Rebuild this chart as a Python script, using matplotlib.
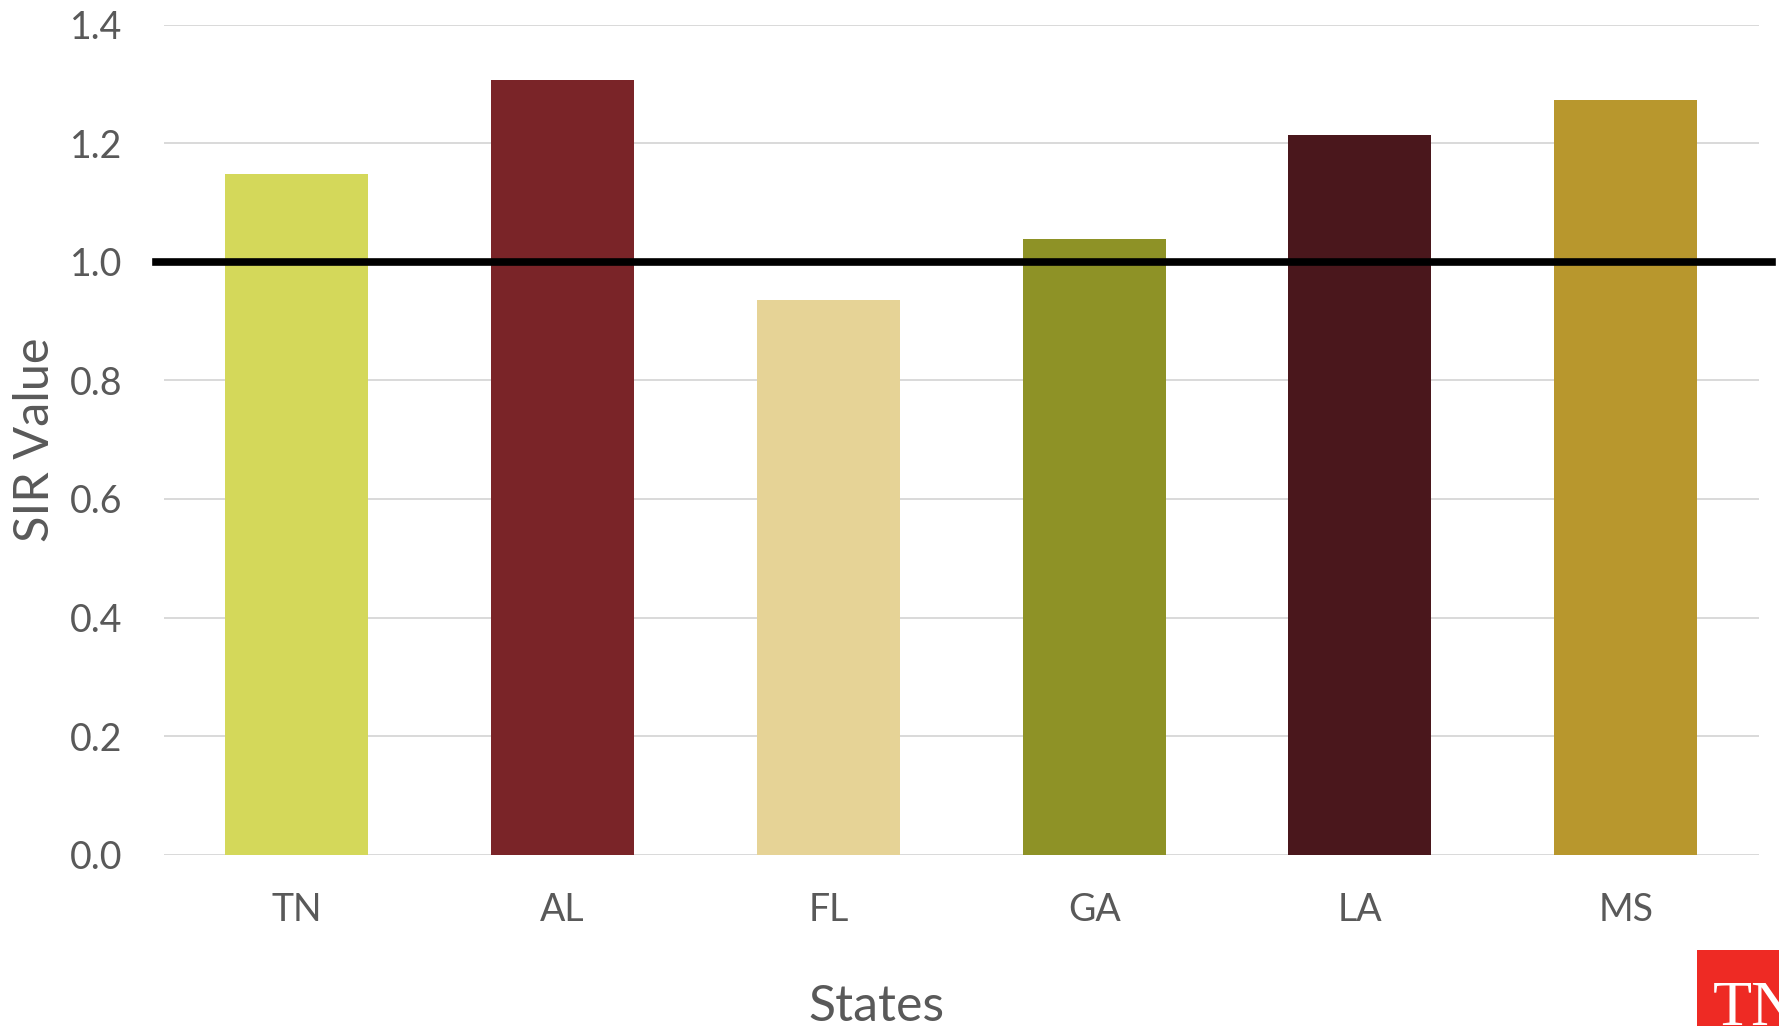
import matplotlib
matplotlib.use("Agg")
import matplotlib.pyplot as plt
from matplotlib.patches import Rectangle

states = ["TN", "AL", "FL", "GA", "LA", "MS"]
sir_values = [1.148, 1.306, 0.935, 1.038, 1.214, 1.273]
bar_colors = ["#D4D85A", "#7A2428", "#E6D396", "#8E9226", "#4A171C", "#B8972D"]
y_ticks = [0.0, 0.2, 0.4, 0.6, 0.8, 1.0, 1.2, 1.4]
y_tick_labels = ["0.0", "0.2", "0.4", "0.6", "0.8", "1.0", "1.2", "1.4"]
reference_sir = 1.0

W, H = 1779, 1026
fig = plt.figure(figsize=(W / 100, H / 100), dpi=100)
fig.patch.set_facecolor("white")

ax_left, ax_right = 164.0 / W, 1758.5 / W
ax_top, ax_bottom = 24.5 / H, 854.7 / H
ax = fig.add_axes([ax_left, 1 - ax_bottom, ax_right - ax_left, ax_bottom - ax_top])

text_color = "#595959"
font = "Lato"

x = list(range(len(states)))
ax.bar(x, sir_values, width=0.538, color=bar_colors, zorder=2)

ax.set_xlim(-0.5, len(states) - 0.5)
ax.set_ylim(0, 1.4)

ax.set_yticks(y_ticks)
ax.set_yticklabels(y_tick_labels)
ax.set_xticks(x)
ax.set_xticklabels(states)
ax.tick_params(axis="both", length=0, colors=text_color, labelsize=27)
ax.tick_params(axis="y", pad=30)
ax.tick_params(axis="x", pad=27)
for lbl in ax.get_xticklabels() + ax.get_yticklabels():
    lbl.set_fontfamily(font)

ax.grid(axis="y", color="#D9D9D9", linewidth=1.4, zorder=0)
ax.set_axisbelow(True)
for sp in ax.spines.values():
    sp.set_visible(False)

# Threshold line at SIR = 1.0, running slightly past the plot area
ax.axhline(reference_sir, xmin=-0.005, xmax=1.0085, color="black",
           linewidth=5.5, clip_on=False, zorder=3)

# Axis titles
fig.text(49 / W, 1 - 440 / H, "SIR Value", rotation=90, rotation_mode="anchor",
         ha="center", va="baseline", fontsize=35, color=text_color, fontfamily=font)
fig.text(876 / W, 1 - 1021 / H, "States", ha="center", va="baseline",
         fontsize=36, color=text_color, fontfamily=font)

# TN logo badge in the lower-right corner
fig.patches.append(Rectangle((1697 / W, 0), (W - 1697) / W, (H - 950) / H,
                             transform=fig.transFigure, facecolor="#EE2A24",
                             edgecolor="none", zorder=5))
fig.text(1713 / W, 1 - 1025 / H, "TN", ha="left", va="baseline", fontsize=46,
         color="white", fontfamily="Liberation Serif", zorder=6)

fig.savefig("out.png", dpi=100, facecolor="white")
